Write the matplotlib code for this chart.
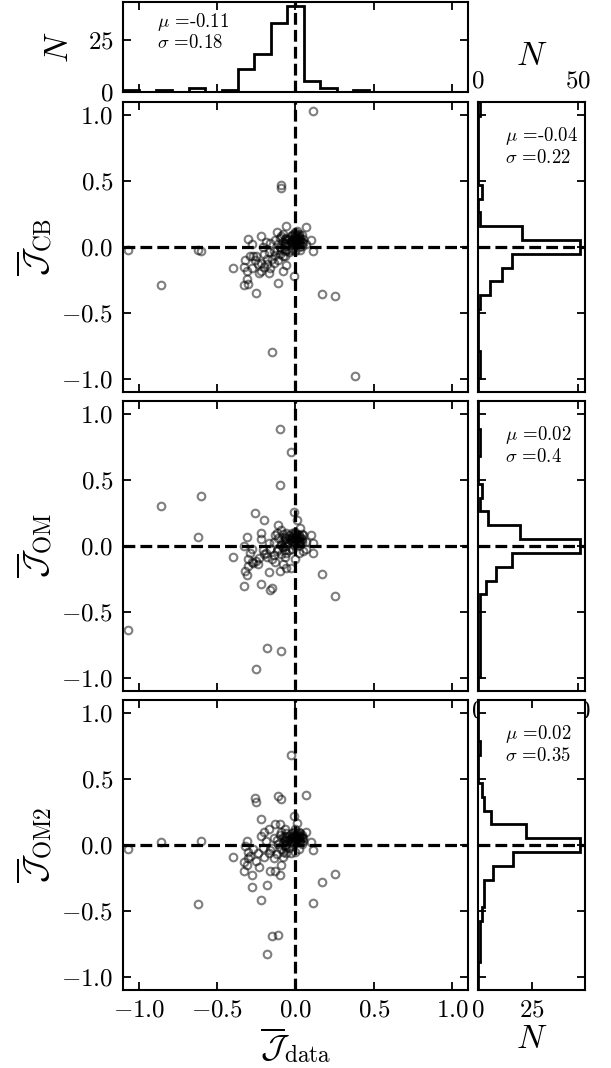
import numpy as np
import matplotlib
matplotlib.use("Agg")
import matplotlib.pyplot as plt
from matplotlib.ticker import MaxNLocator, MultipleLocator

plt.rcParams["font.family"] = "serif"
plt.rcParams["font.serif"] = ["cmr10"]
plt.rcParams["mathtext.fontset"] = "cm"
plt.rcParams["axes.formatter.use_mathtext"] = True

# shared histogram bins (21 bins centred on zero)
bin_edges = np.linspace(-1.1, 1.1, 22)

# J_data, one value per object (shared by all three panels)
j_data = [
    -1.07, -0.86, -0.62, -0.60, -0.40,
    -0.33, -0.33, -0.32, -0.31, -0.31, -0.30, -0.30, -0.29, -0.28, -0.28, -0.27,
    -0.26, -0.25, -0.25, -0.24, -0.23, -0.22, -0.22, -0.22, -0.21, -0.20, -0.20,
    -0.19, -0.18, -0.18, -0.17, -0.17, -0.16, -0.16,
    -0.15, -0.15, -0.14, -0.14, -0.13, -0.13, -0.12, -0.12, -0.11, -0.11, -0.11,
    -0.10, -0.10, -0.10, -0.09, -0.09, -0.09, -0.09, -0.08, -0.08, -0.08, -0.08,
    -0.07, -0.07, -0.07, -0.07, -0.07, -0.06, -0.06, -0.06, -0.06, -0.06, -0.06,
    -0.05, -0.04, -0.04, -0.03, -0.03, -0.03, -0.02, -0.02, -0.02, -0.02,
    -0.01, -0.01, -0.01, -0.01, -0.01, 0.00, 0.00, 0.00, 0.00, 0.00, 0.00,
    0.01, 0.01, 0.01, 0.01, 0.01, 0.01, 0.02, 0.02, 0.02, 0.02, 0.02,
    0.03, 0.03, 0.03, 0.03, 0.04, 0.04, 0.04, 0.05, 0.05,
    0.07, 0.07, 0.10, 0.11, 0.11, 0.17, 0.25, 0.38,
]

j_cb = [
    -0.02, -0.29, -0.02, -0.03, -0.16,
    -0.15, -0.29, -0.10, -0.18, -0.24, -0.28, 0.06, -0.07, -0.16, 0.02, -0.07,
    -0.10, -0.35, -0.07, -0.13, -0.20, 0.08, -0.18, -0.12, 0.00, -0.05, -0.15,
    0.04, -0.09, -0.13, -0.20, -0.04, 0.03, -0.16,
    -0.80, -0.09, -0.03, -0.12, 0.05, -0.06, 0.11, -0.02, -0.27, 0.02, -0.10,
    0.07, -0.05, 0.00, 0.47, 0.45, -0.01, 0.08, -0.18, 0.04, -0.07, 0.10,
    -0.07, 0.02, 0.06, -0.03, 0.03, 0.16, -0.14, 0.05, 0.01, 0.07, -0.02,
    0.03, -0.04, 0.06, 0.08, -0.02, 0.04, 0.05, 0.02, 0.09, -0.01,
    -0.22, 0.07, 0.03, 0.10, 0.05, 0.04, 0.08, 0.01, 0.06, 0.11, -0.03,
    0.05, 0.09, 0.02, 0.07, 0.12, 0.04, 0.06, 0.03, 0.10, 0.00, 0.08,
    0.05, 0.02, 0.07, -0.02, 0.04, 0.09, 0.01, 0.03, 0.06,
    0.15, 0.02, 0.05, 1.03, -0.03, -0.36, -0.37, -0.98,
]

j_om = [
    -0.64, 0.30, 0.07, 0.38, -0.08,
    0.00, -0.30, -0.19, 0.07, -0.22, -0.15, -0.10, -0.05, -0.12, -0.02, -0.13,
    0.25, -0.93, -0.11, -0.14, -0.09, 0.10, 0.05, -0.29, -0.03, 0.20, -0.06,
    -0.05, -0.77, -0.08, -0.20, 0.02, -0.33, -0.02,
    -0.32, -0.10, 0.03, -0.07, -0.12, 0.08, 0.10, -0.04, 0.16, -0.02, 0.06,
    0.89, 0.46, -0.19, -0.80, 0.01, 0.12, -0.06, -0.14, 0.04, -0.01, 0.09,
    -0.08, 0.02, 0.07, -0.03, 0.05, 0.00, -0.17, 0.03, 0.06, 0.10, -0.05,
    0.02, -0.03, 0.08, 0.71, -0.17, 0.05, 0.04, 0.07, 0.10, -0.02,
    0.26, 0.06, 0.03, 0.09, 0.01, 0.05, -0.10, 0.08, 0.03, 0.11, 0.06,
    0.20, 0.04, 0.07, 0.02, 0.09, 0.05, 0.03, 0.08, -0.05, 0.06, 0.01,
    0.14, 0.04, 0.07, 0.02, 0.09, 0.05, 0.03, 0.08, -0.04,
    0.03, -0.02, 0.08, -0.05, 0.02, -0.21, -0.38, -1.30,
]

j_om2 = [
    -0.03, 0.02, -0.45, 0.03, -0.09,
    -0.13, -0.20, -0.01, 0.03, -0.15, -0.10, -0.05, -0.08, -0.23, -0.32, -0.03,
    0.36, 0.33, -0.12, -0.06, -0.17, 0.20, 0.07, -0.42, -0.02, 0.10, -0.09,
    0.03, -0.83, -0.30, -0.06, 0.12, -0.20, -0.04,
    -0.69, -0.02, 0.05, -0.10, 0.16, -0.20, 0.04, -0.07, 0.37, -0.68, 0.01,
    0.16, -0.23, 0.08, 0.35, -0.15, -0.03, 0.10, 0.02, -0.09, 0.06, -0.05,
    0.00, 0.12, -0.01, 0.04, 0.07, -0.06, 0.03, 0.09, -0.02, 0.05, 0.01,
    0.04, -0.02, 0.07, 0.68, -0.06, 0.03, 0.05, 0.09, 0.02, 0.06,
    0.22, 0.01, 0.08, 0.04, 0.10, 0.05, -0.05, 0.07, 0.03, 0.12, 0.06,
    0.02, 0.09, 0.05, 0.17, 0.04, 0.08, 0.03, 0.06, -0.03, 0.10, 0.05,
    0.02, 0.07, 0.04, 0.09, 0.01, 0.06, 0.08, 0.03, 0.05,
    0.38, 0.10, 0.02, -0.04, -0.44, -0.28, -0.22, -1.30,
]

# histogram counts (bin 0 = lowest)
data_counts = [1, 0, 1, 0, 2, 0, 1, 11, 18, 33, 41, 5, 2, 0, 1, 0, 0, 0, 0, 0, 0]
cb_counts = [0, 1, 1, 0, 0, 0, 1, 6, 12, 17, 51, 22, 1, 0, 2, 0, 0, 0, 0, 0, 1]
om_counts = [0, 1, 1, 1, 1, 1, 1, 4, 9, 17, 51, 21, 5, 1, 2, 0, 0, 1, 1, 0, 0]
om2_counts = [0, 0, 1, 1, 1, 2, 3, 3, 7, 16, 47, 22, 6, 3, 2, 0, 0, 1, 0, 0, 0]

panel_labels = [r"$\overline{\mathcal{J}}_{\rm CB}$",
                r"$\overline{\mathcal{J}}_{\rm OM}$",
                r"$\overline{\mathcal{J}}_{\rm OM2}$"]
data_mu, data_sigma = "-0.11", "0.18"
panel_mu = ["-0.04", "0.02", "0.02"]
panel_sigma = ["0.22", "0.4", "0.35"]

TICK_FS = 18
LABEL_FS = 24
TEXT_FS = 13.5

bin_centres = 0.5 * (bin_edges[1:] + bin_edges[:-1])


def count_locator():
    return MaxNLocator(2, steps=[1, 2.5, 5, 10])


def style(ax):
    ax.tick_params(which="both", direction="in", top=True, right=True,
                   length=6, width=1.3, pad=7, labelsize=TICK_FS)
    for sp in ax.spines.values():
        sp.set_linewidth(1.5)


def stats_text(ax, x, y, mu, sigma):
    ax.text(x, y, r"$\mu$ =" + mu + "\n" + r"$\sigma$ =" + sigma,
            transform=ax.transAxes, va="top", ha="left", fontsize=TEXT_FS,
            linespacing=1.1)


fig = plt.figure(figsize=(6.11, 10.68), dpi=100)

L, W = 0.2013, 0.5646
RL, RW = 0.7823, 0.1751
H = 0.2715
bottoms = [0.6330, 0.3530, 0.0730]

# top marginal histogram of J_data
ax_top = fig.add_axes([L, 0.9139, W, 0.0843])
ax_top.hist(bin_centres, bins=bin_edges, weights=data_counts,
            histtype="step", color="k", lw=2)
ax_top.axvline(0, color="k", ls="--", lw=2.3)
ax_top.set_xlim(-1.1, 1.1)
ax_top.xaxis.set_major_locator(MultipleLocator(0.5))
ax_top.yaxis.set_major_locator(count_locator())
style(ax_top)
ax_top.tick_params(labelbottom=False)
ax_top.set_ylabel(r"$N$", fontsize=LABEL_FS, labelpad=10)
stats_text(ax_top, 0.10, 0.90, data_mu, data_sigma)

ys = [j_cb, j_om, j_om2]
counts = [cb_counts, om_counts, om2_counts]

for i in range(3):
    ax = fig.add_axes([L, bottoms[i], W, H])
    ax.plot(j_data, ys[i], "o", mfc="none", mec="k", alpha=0.5, ms=5.5, mew=1.5)
    ax.axvline(0, color="k", ls="--", lw=2.3)
    ax.axhline(0, color="k", ls="--", lw=2.3)
    ax.set_xlim(-1.1, 1.1)
    ax.set_ylim(-1.1, 1.1)
    ax.xaxis.set_major_locator(MultipleLocator(0.5))
    ax.yaxis.set_major_locator(MultipleLocator(0.5))
    style(ax)
    ax.set_ylabel(panel_labels[i], fontsize=LABEL_FS)
    if i < 2:
        ax.tick_params(labelbottom=False)
    else:
        ax.set_xlabel(r"$\overline{\mathcal{J}}_{\rm data}$", fontsize=LABEL_FS,
                      labelpad=2)

    axr = fig.add_axes([RL, bottoms[i], RW, H])
    axr.hist(bin_centres, bins=bin_edges, weights=counts[i],
             histtype="step", orientation="horizontal", color="k", lw=2)
    axr.axhline(0, color="k", ls="--", lw=2.3)
    axr.set_ylim(-1.1, 1.1)
    axr.yaxis.set_major_locator(MultipleLocator(0.5))
    axr.xaxis.set_major_locator(count_locator())
    style(axr)
    axr.tick_params(labelleft=False)
    if i == 0:
        axr.tick_params(labeltop=True, labelbottom=False)
        axr.xaxis.set_label_position("top")
        axr.set_xlabel(r"$N$", fontsize=LABEL_FS)
    elif i == 2:
        axr.set_xlabel(r"$N$", fontsize=LABEL_FS, labelpad=2)
    stats_text(axr, 0.25, 0.92, panel_mu[i], panel_sigma[i])

fig.savefig("out.png", dpi=100)
